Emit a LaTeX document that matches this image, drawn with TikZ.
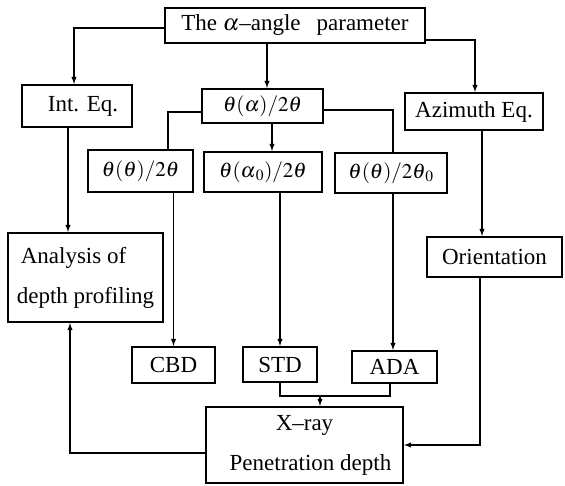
\documentclass[tikz,border=0pt]{standalone}
\usepackage{mathptmx}
\usepackage{fontspec}
\setmainfont{Liberation Serif}
\tikzset{
 box/.style={draw,line width=2.2pt,inner sep=0pt,font=\fontsize{23}{25}\selectfont},
 mbox/.style={box,font=\fontsize{21}{23}\selectfont},
 ln/.style={line width=1.4pt},
 arr/.style={-latex,line width=1.4pt},
}

\begin{document}
\begin{tikzpicture}[x=1pt,y=-1pt]
 \useasboundingbox (0,0) rectangle (565,485);
 % first row
 \node[box,minimum width=260,minimum height=35] (alpha) at (295,25.5) {The $\alpha$--angle\hspace{16pt}parameter};
 \node[box,minimum width=110,minimum height=42] (inteq) at (77,106) {\hspace{12pt}Int. Eq.};
 \node[mbox,minimum width=121,minimum height=34] (thal) at (262.5,106) {$\theta(\alpha)/2\theta$};
 \node[box,minimum width=138,minimum height=37] (azim) at (474,111.5) {Azimuth Eq.};
 % second row
 \node[mbox,minimum width=105,minimum height=42] (thth) at (140.5,171) {$\theta(\theta)/2\theta$};
 \node[mbox,minimum width=118,minimum height=40] (thalo) at (263,172) {$\theta(\alpha_{\kern2pt 0})/2\theta$};
 \node[mbox,minimum width=112,minimum height=40] (ththo) at (391,173) {$\theta(\theta)/2\theta_{\kern2pt 0}$};
 \node[box,minimum width=155,minimum height=89,align=left] (anal) at (85.5,277.5) {\hspace{4pt}Analysis of\\[15pt]depth profiling};
 \node[box,minimum width=135,minimum height=40] (orient) at (494.5,257) {Orientation\hspace{8pt}};
 % third row
 \node[box,minimum width=83,minimum height=36] (cbd) at (173.5,365) {CBD};
 \node[box,minimum width=74,minimum height=35] (std) at (280,364.5) {STD};
 \node[box,minimum width=85,minimum height=32] (ada) at (394.5,367) {ADA};
 \node[box,minimum width=197,minimum height=76,align=center] (xray) at (304.5,445) {X--ray\\[15pt]\hspace{12pt}Penetration depth};
 % connectors
 \draw[arr] ([yshift=-2.5]alpha.west) -| ([xshift=-3]inteq.north);
 \draw[arr] ([yshift=-14.5]alpha.east) -| ([xshift=1]azim.north);
 \draw[arr] ([xshift=4.5]thal.north |- alpha.south) -- ([xshift=4.5]thal.north);
 \draw[ln] ([yshift=-6]thal.west) -| ([xshift=27.5]thth.north);
 \draw[ln] ([yshift=-4]thal.east) -| ([xshift=2]ththo.north);
 \draw[arr] ([xshift=9.5]thal.south) -- ([xshift=9]thalo.north);
 \draw[arr] (cbd.north |- thth.south) -- (cbd.north);
 \draw[arr] (std.north |- thalo.south) -- (std.north);
 \draw[arr] ([xshift=-1.5]ada.north |- ththo.south) -- ([xshift=-1.5]ada.north);
 \draw[arr] ([xshift=-9]inteq.south) -- ([xshift=-9]inteq.south |- anal.north);
 \draw[arr] ([xshift=8]azim.south) -- ([xshift=8]azim.south |- orient.north);
 \draw[arr] ([xshift=-14.5]orient.south) |- (xray.east);
 \draw[arr] ([yshift=-8]xray.west) -| ([xshift=-15.5]anal.south);
 \coordinate (mrg) at ([xshift=15.5,yshift=10]xray.north);
 \draw[ln] (std.south) |- (mrg) -| ([xshift=-4.5]ada.south);
 \draw[arr] (mrg) -- (mrg |- xray.north);
\end{tikzpicture}
\end{document}
